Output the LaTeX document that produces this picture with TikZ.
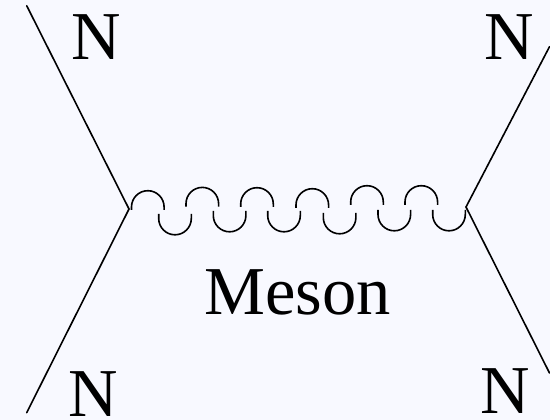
\documentclass[tikz,border=0pt]{standalone}
\usepackage{fontspec}
\setmainfont{Liberation Serif}
\usepackage{xcolor}
\usepackage{tikz}
\definecolor{paleblue}{HTML}{F8F9FF}

\begin{document}
\begin{tikzpicture}[
        x=1pt, y=1pt,
        particle/.style={anchor=base west, inner sep=0pt, font=\fontsize{68.5}{68.5}\selectfont},
        fermion/.style={line width=1.6pt, line cap=round, color=black},
        gluon/.style={line width=1.6pt, line cap=butt, color=black}
      ]
      \fill[paleblue] (0,0) rectangle (550,-420);
      \useasboundingbox (0,0) rectangle (550,-420);
      % vertices and free line ends
      \coordinate (V1) at (129,-209);
      \coordinate (V2) at (466,-207);
      \coordinate (E1) at (26.7,-5.7);
      \coordinate (E2) at (26.7,-412.7);
      \coordinate (E3) at (549.5,-46.7);
      \coordinate (E4) at (549.5,-373);
      \draw[fermion] (E1) -- (V1) -- (E2);
      \draw[fermion] (E3) -- (V2) -- (E4);
      % upper half rings
      \foreach \px/\py in {131.5/210, 186/206.7, 240.7/207, 296/208, 350.7/205, 405/205}
        \draw[gluon] (\px,-\py) -- ++(0,3) arc[start angle=180, end angle=0, radius=16.3] -- ++(0,-3);
      % lower half rings
      \foreach \px/\py in {158.7/214, 213.3/211, 267.7/211, 323.3/213, 378/210, 432.7/210}
        \draw[gluon] (\px,-\py) -- ++(0,-4.5) arc[start angle=180, end angle=360, radius=16.3] -- ++(0,4.5);
      \node[particle] (N1) at (71,-60) {N};
      \node[particle] (N2) at (67.8,-416.7) {N};
      \node[particle] (N3) at (483.8,-60) {N};
      \node[particle] (N4) at (480.2,-413.3) {N};
      \node[particle] (M) at (204,-314.3) {Meson};
    \end{tikzpicture}
\end{document}
